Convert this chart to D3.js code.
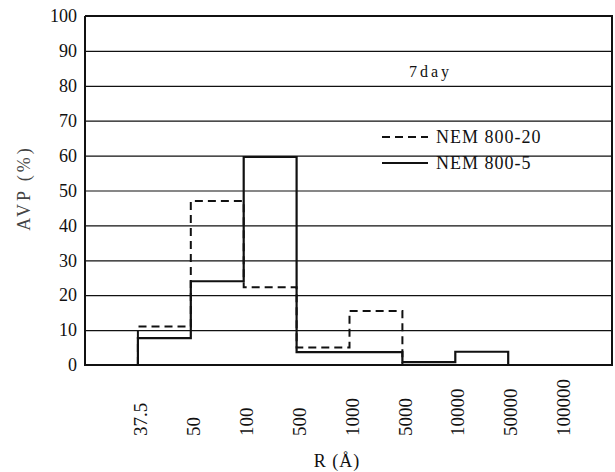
<!DOCTYPE html>
<html>
<head>
<meta charset="utf-8">
<script src="https://cdn.jsdelivr.net/npm/d3@7"></script>
<style>
  body { margin: 0; background: #fff; }
  text { font-family: "Liberation Serif", "DejaVu Serif", serif; fill: #111; }
</style>
</head>
<body>
<div class="chart"></div>
<script>
// pore radius classes (Å), bins lie between consecutive labels
const bins = ['37.5', '50', '100', '500', '1000', '5000', '10000', '50000', '100000'];
const nem20 = [11, 47, 22.3, 5, 15.5, 0, 0, 0];
const nem5 = [7.7, 24, 59.6, 3.7, 3.7, 0.8, 3.8, 0];
const yTicks = [0, 10, 20, 30, 40, 50, 60, 70, 80, 90, 100];

const W = 615, H = 472;
const plot = { left: 85, right: 612, top: 16, bottom: 365 };

const svg = d3.select('.chart')
  .append('svg')
  .attr('width', W)
  .attr('height', H);

// label i sits on slot i + 1
const xScale = d3.scaleLinear().domain([0, 10]).range([plot.left, plot.left + 529]);
const yScale = d3.scaleLinear().domain([0, 100]).range([plot.bottom, plot.top]);

// gridlines + y labels
const yAxis = d3.axisLeft(yScale)
  .tickValues(yTicks)
  .tickSize(-(plot.right - plot.left))
  .tickPadding(8)
  .tickFormat(d3.format('d'));

const gy = svg.append('g')
  .attr('transform', `translate(${plot.left}, 0)`)
  .call(yAxis);
gy.select('.domain').remove();
gy.selectAll('line').attr('stroke', '#111').attr('stroke-width', 1.2);
gy.selectAll('text')
  .style('font-size', '18px')
  .attr('font-family', null);

// x labels, rotated
const xAxis = d3.axisBottom(xScale)
  .tickValues(d3.range(1, bins.length + 1))
  .tickSize(0)
  .tickFormat(i => bins[i - 1]);

const gx = svg.append('g')
  .attr('transform', `translate(2, ${plot.bottom})`)
  .call(xAxis);
gx.select('.domain').remove();
gx.selectAll('text')
  .attr('transform', 'rotate(-90)')
  .attr('x', -71)
  .attr('y', 0)
  .attr('dy', '0.35em')
  .style('text-anchor', 'start')
  .style('font-size', '19px')
  .attr('font-family', null);

// frame
svg.append('path')
  .attr('d', `M${plot.left},${plot.top}V${plot.bottom}H${plot.right}V${plot.top}H${plot.left}`)
  .attr('fill', 'none')
  .attr('stroke', '#111')
  .attr('stroke-width', 2);

// step outline of a histogram
const stepPath = vals => {
  const pts = [[xScale(1), yScale(0)]];
  vals.forEach((v, i) => {
    pts.push([xScale(i + 1), yScale(v)]);
    pts.push([xScale(i + 2), yScale(v)]);
  });
  pts.push([xScale(vals.length + 1), yScale(0)]);
  return d3.line()(pts);
};

svg.append('path')
  .attr('d', stepPath(nem20))
  .attr('fill', 'none')
  .attr('stroke', '#111')
  .attr('stroke-width', 2)
  .attr('stroke-dasharray', '8,5');

svg.append('path')
  .attr('d', stepPath(nem5))
  .attr('fill', 'none')
  .attr('stroke', '#111')
  .attr('stroke-width', 2.2);

// title
svg.append('text')
  .attr('x', 409)
  .attr('y', 77)
  .style('font-size', '16px')
  .style('letter-spacing', '3px')
  .text('7day');

// legend
const legend = [
  { name: 'NEM 800-20', dash: '8,5', y: 137 },
  { name: 'NEM 800-5', dash: null, y: 163 },
];
const lg = svg.selectAll('.legend')
  .data(legend)
  .enter()
  .append('g')
  .attr('class', 'legend');
lg.append('line')
  .attr('x1', 382).attr('x2', 428)
  .attr('y1', d => d.y).attr('y2', d => d.y)
  .attr('stroke', '#111')
  .attr('stroke-width', 2)
  .attr('stroke-dasharray', d => d.dash);
lg.append('text')
  .attr('x', 436)
  .attr('y', d => d.y + 6)
  .style('font-size', '18px')
  .style('letter-spacing', '1px')
  .text(d => d.name);

// axis titles
svg.append('text')
  .attr('transform', 'translate(30, 188) rotate(-90)')
  .style('text-anchor', 'middle')
  .style('font-size', '18px')
  .style('letter-spacing', '3px')
  .style('fill', '#444')
  .text('AVP (%)');

svg.append('text')
  .attr('x', 337)
  .attr('y', 467)
  .style('text-anchor', 'middle')
  .style('font-size', '18px')
  .style('letter-spacing', '1px')
  .text('R (Å)');
</script>
</body>
</html>
